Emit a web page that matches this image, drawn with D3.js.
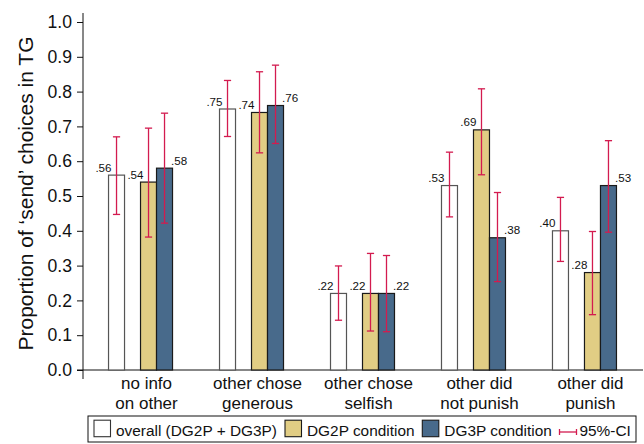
<!DOCTYPE html>
<html>
<head>
<meta charset="utf-8">
<script src="https://cdn.jsdelivr.net/npm/d3@7"></script>
<style>
  html, body { margin: 0; padding: 0; background: #fff; }
  svg { display: block; }
  text { font-family: "Liberation Sans", Arial, Helvetica, sans-serif; fill: #111; }
</style>
</head>
<body>
<svg id="chart" width="644" height="444"></svg>
<script>
// Category labels (two lines each)
const categories = ["no info|on other", "other chose|generous", "other chose|selfish", "other did|not punish", "other did|punish"];

// Series names
const seriesNames = ["overall (DG2P + DG3P)", "DG2P condition", "DG3P condition"];

// Proportion of 'send' choices per category
const overallValues = [0.56, 0.75, 0.22, 0.53, 0.40];
const dg2pValues    = [0.54, 0.74, 0.22, 0.69, 0.28];
const dg3pValues    = [0.58, 0.76, 0.22, 0.38, 0.53];

// 95% confidence intervals (lower / upper)
const overallLow  = [0.447, 0.671, 0.143, 0.440, 0.312];
const overallHigh = [0.670, 0.832, 0.299, 0.626, 0.496];
const dg2pLow     = [0.382, 0.624, 0.112, 0.561, 0.159];
const dg2pHigh    = [0.695, 0.857, 0.335, 0.808, 0.398];
const dg3pLow     = [0.422, 0.651, 0.110, 0.254, 0.396];
const dg3pHigh    = [0.738, 0.876, 0.329, 0.510, 0.659];

// Y axis ticks
const yTicks = [0, 0.1, 0.2, 0.3, 0.4, 0.5, 0.6, 0.7, 0.8, 0.9, 1.0];

const seriesFill   = ["#ffffff", "#e1cd84", "#486a8b"];
const seriesStroke = ["#555555", "#1a1a1a", "#1a1a1a"];
const seriesSlot   = [0, 2, 3];   // slot 1 stays empty inside each group
const ciColor = "#d31b4f";

const seriesData = [
  { name: seriesNames[0], values: overallValues, low: overallLow, high: overallHigh },
  { name: seriesNames[1], values: dg2pValues,    low: dg2pLow,    high: dg2pHigh },
  { name: seriesNames[2], values: dg3pValues,    low: dg3pLow,    high: dg3pHigh }
];

const bars = [];
seriesData.forEach((s, si) => {
  categories.forEach((c, ci) => {
    bars.push({ cat: c, si, value: s.values[ci], low: s.low[ci], high: s.high[ci] });
  });
});

const svg = d3.select("#chart");

const plot = { left: 83, right: 642, top: 22, bottom: 370 };

const x = d3.scaleBand()
  .domain(categories)
  .range([plot.left, plot.right])
  .paddingInner(0.4234)
  .paddingOuter(0.23);

const xSlot = d3.scaleBand()
  .domain([0, 1, 2, 3])
  .range([0, x.bandwidth()]);

const y = d3.scaleLinear().domain([0, 1]).range([plot.bottom, plot.top]);

const fmtTick = d3.format(".1f");
const fmtVal = v => d3.format(".2f")(v).replace(/^0/, "");

// Y axis
const yAxis = d3.axisLeft(y)
  .tickValues(yTicks)
  .tickFormat(fmtTick)
  .tickSize(6)
  .tickPadding(5);

const gy = svg.append("g")
  .attr("transform", `translate(${plot.left},0)`)
  .call(yAxis);
gy.select(".domain").remove();
gy.selectAll(".tick line").attr("stroke", "#111").attr("stroke-width", 1);
gy.selectAll(".tick text")
  .style("font-size", "17.6px")
  .style("font-family", "'Liberation Sans', Arial, Helvetica, sans-serif")
  .attr("fill", "#111");

svg.append("line")
  .attr("x1", plot.left).attr("x2", plot.left)
  .attr("y1", 13).attr("y2", 379)
  .attr("stroke", "#111").attr("stroke-width", 1);

// X axis baseline
svg.append("line")
  .attr("x1", plot.left - 6).attr("x2", 643)
  .attr("y1", y(0)).attr("y2", y(0))
  .attr("stroke", "#111").attr("stroke-width", 1);

// Category labels, two lines each
const xLab = svg.append("g");
categories.forEach(c => {
  const lines = c.split("|");
  const cx = x(c) + x.bandwidth() / 2 + 6;
  lines.forEach((ln, i) => {
    xLab.append("text")
      .attr("x", cx)
      .attr("y", 389.3 + i * 19.2)
      .attr("text-anchor", "middle")
      .style("font-size", "17px")
      .text(ln);
  });
});

// Y axis title
svg.append("text")
  .attr("transform", `translate(33,${193.5}) rotate(-90)`)
  .attr("text-anchor", "middle")
  .style("font-size", "21px")
  .text("Proportion of \u2018send\u2019 choices in TG");

// Bars
const barX = d => x(d.cat) + xSlot(seriesSlot[d.si]);
const bw = xSlot.bandwidth();

svg.append("g").selectAll("rect")
  .data(bars)
  .join("rect")
  .attr("x", d => barX(d))
  .attr("y", d => y(d.value))
  .attr("width", bw)
  .attr("height", d => y(0) - y(d.value))
  .attr("fill", d => seriesFill[d.si])
  .attr("stroke", d => seriesStroke[d.si])
  .attr("stroke-width", 1.2);

// Confidence intervals
const capHalf = 3.6;
const ci = svg.append("g").attr("stroke", ciColor).attr("stroke-width", 1.3).attr("fill", "none");
bars.forEach(d => {
  const cx = barX(d) + bw / 2;
  ci.append("line").attr("x1", cx).attr("x2", cx).attr("y1", y(d.low)).attr("y2", y(d.high));
  ci.append("line").attr("x1", cx - capHalf).attr("x2", cx + capHalf).attr("y1", y(d.low)).attr("y2", y(d.low));
  ci.append("line").attr("x1", cx - capHalf).attr("x2", cx + capHalf).attr("y1", y(d.high)).attr("y2", y(d.high));
});

// Value labels
svg.append("g").selectAll("text")
  .data(bars)
  .join("text")
  .attr("x", d => d.si === 2 ? barX(d) + bw - 1.5 : barX(d) + 3)
  .attr("y", d => y(d.value) - 3.5)
  .attr("text-anchor", d => d.si === 2 ? "start" : "end")
  .style("font-size", "11.6px")
  .text(d => fmtVal(d.value));

// Legend
const leg = svg.append("g");
leg.append("rect")
  .attr("x", 88).attr("y", 416)
  .attr("width", 548).attr("height", 26)
  .attr("fill", "#fff").attr("stroke", "#111").attr("stroke-width", 1);

const keyX = [94, 285, 422.3];   // swatch positions along the legend row
const sw = 16.5;
const swY = 420.2;
const textY = 436;
seriesNames.forEach((name, i) => {
  leg.append("rect")
    .attr("x", keyX[i]).attr("y", swY)
    .attr("width", sw).attr("height", sw)
    .attr("fill", seriesFill[i])
    .attr("stroke", i === 0 ? "#333" : seriesStroke[i]).attr("stroke-width", 1.1);
  leg.append("text")
    .attr("x", keyX[i] + sw + 5.5).attr("y", textY)
    .style("font-size", "15.4px")
    .text(name);
});
// CI key
const ciX = 559.5;
const ciY = 432;
const ciG = leg.append("g").attr("stroke", ciColor).attr("stroke-width", 1.3);
ciG.append("line").attr("x1", ciX).attr("x2", ciX + 17).attr("y1", ciY).attr("y2", ciY);
ciG.append("line").attr("x1", ciX).attr("x2", ciX).attr("y1", ciY - 3).attr("y2", ciY + 3);
ciG.append("line").attr("x1", ciX + 17).attr("x2", ciX + 17).attr("y1", ciY - 3).attr("y2", ciY + 3);
leg.append("text")
  .attr("x", ciX + 20).attr("y", textY)
  .style("font-size", "15.4px")
  .text("95%-CI");
</script>
</body>
</html>
